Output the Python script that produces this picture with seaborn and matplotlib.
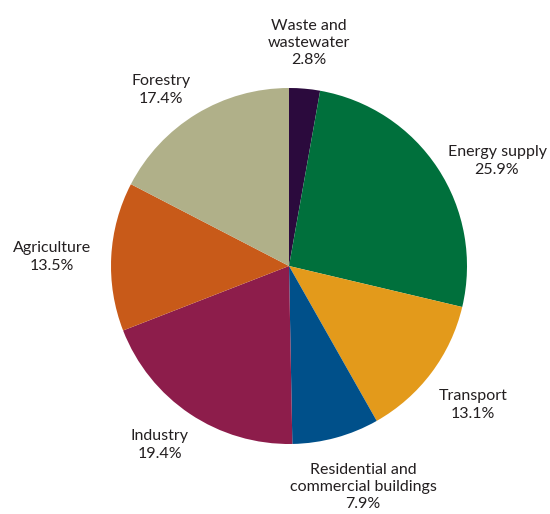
import matplotlib
matplotlib.use("Agg")
import matplotlib.pyplot as plt
import seaborn as sns

sns.set_theme(style="white")
plt.rcParams['font.family'] = ['Lato', 'DejaVu Sans']

categories = ["Waste and\nwastewater", "Energy supply", "Transport",
              "Residential and\ncommercial buildings", "Industry",
              "Agriculture", "Forestry"]
shares = [2.8, 25.9, 13.1, 7.9, 19.4, 13.5, 17.4]
colors = ["#2b0a3d", "#00703c", "#e39a1b", "#00508a", "#8d1d4b",
          "#c85a19", "#b0b089"]

# label centres in pixel coordinates (layout only)
label_pos = [(309, 43), (497, 161), (473, 405), (363, 487),
             (160, 445), (52, 257), (161, 90)]

W, H = 550, 514
fig = plt.figure(figsize=(W / 100, H / 100), dpi=100)
ax = fig.add_axes([0, 0, 1, 1])
ax.pie(shares, colors=colors, startangle=90, counterclock=False,
       center=(289, H - 266), radius=178,
       wedgeprops=dict(linewidth=0))
ax.set_xlim(0, W)
ax.set_ylim(0, H)
ax.set_aspect("equal")
ax.axis("off")

for cat, val, (x, y) in zip(categories, shares, label_pos):
    ax.text(x, H - y, f"{cat}\n{val:.1f}%", ha="center", va="center",
            fontsize=11.5, color="#231f20", linespacing=1.3)

fig.savefig("out.png", dpi=100)
